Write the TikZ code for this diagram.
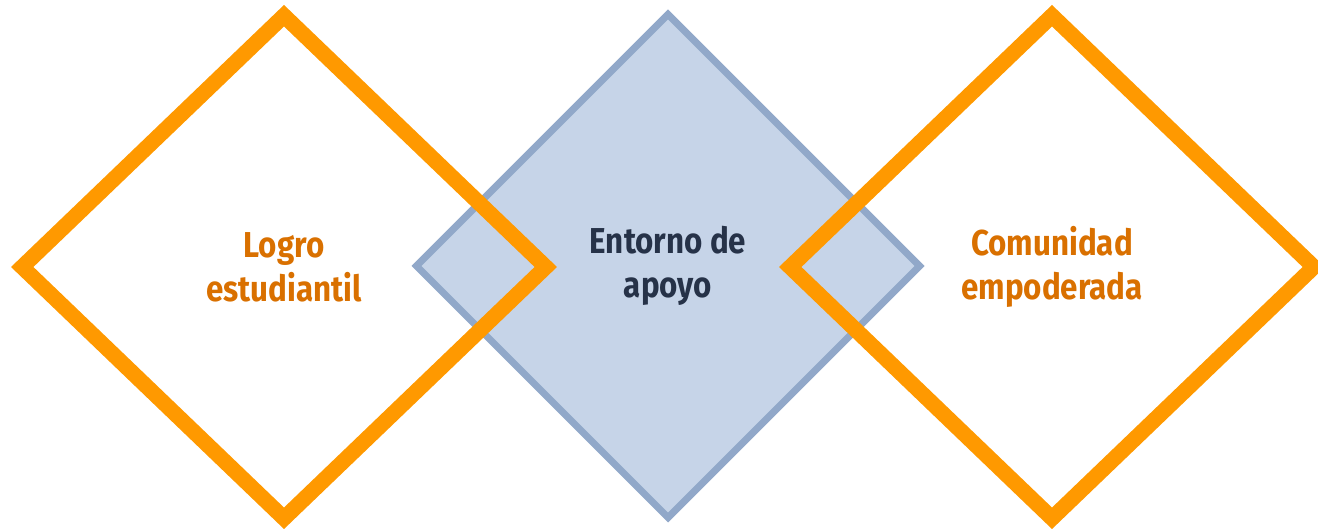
\documentclass[tikz,border=0pt]{standalone}
\usepackage{fontspec}
\setmainfont{Fira Sans}[FakeStretch=0.87]
\usetikzlibrary{shapes.geometric,positioning}
\definecolor{ringorange}{HTML}{FF9900}
\definecolor{textorange}{HTML}{D97000}
\definecolor{boxblue}{HTML}{C6D4E8}
\definecolor{lineblue}{HTML}{91A8C9}
\definecolor{textnavy}{HTML}{263248}

\tikzset{
  ring/.style={diamond, draw=ringorange, line width=15.5pt,
    minimum width=530pt, minimum height=509pt, inner sep=0pt,
    align=center, text=textorange,
    font=\bfseries\fontsize{36}{44}\selectfont},
  core/.style={diamond, draw=lineblue, fill=boxblue, line width=7pt,
    minimum width=506pt, minimum height=506pt, inner sep=0pt,
    align=center, text=textnavy,
    font=\bfseries\fontsize{36}{44}\selectfont}
}

\begin{document}
\begin{tikzpicture}[x=1pt,y=1pt]
  \useasboundingbox (0,0) rectangle (1318,529);
  \node[core] (apoyo) at (668,263) {Entorno de\\apoyo};
  \node[ring] (logro) at (284,262) {Logro\\estudiantil};
  \node[ring] (comunidad) at (1052,262) {Comunidad\\empoderada};
\end{tikzpicture}
\end{document}
